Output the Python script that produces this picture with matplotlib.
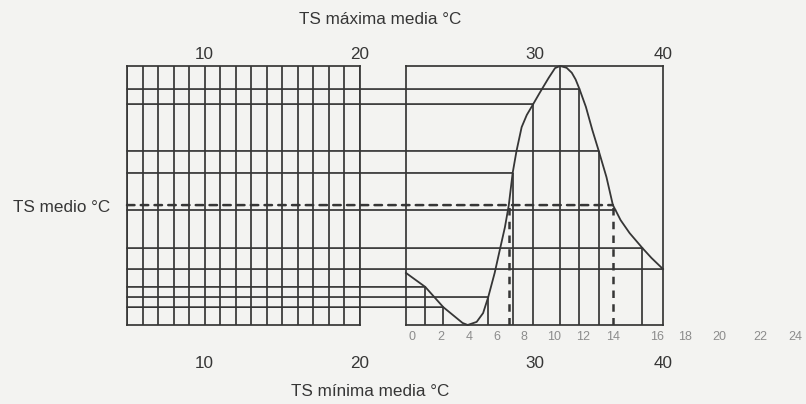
import numpy as np
import matplotlib.pyplot as plt
from matplotlib.patches import ConnectionPatch
from matplotlib.transforms import blended_transform_factory

plt.rcParams['font.family'] = ['Liberation Sans', 'DejaVu Sans']

# ---- data ----
# curve in the right panel: x = TS maxima media (degC), y = TS medio (relative, 0-100)
curve_tmax = [20.0, 21.5, 22.9, 24.4, 24.8, 25.5, 26.0, 26.4, 26.9, 27.3, 27.7, 28.0,
              28.3, 28.6, 29.0, 29.4, 29.9, 30.4, 31.1, 31.6, 32.0, 32.5, 32.9, 33.2,
              33.5, 34.0, 34.5, 35.0, 35.6, 36.1, 36.3, 36.7, 37.4, 38.4, 39.1, 40.0]
curve_medio = [20.1, 14.7, 6.9, 0.8, 0.0, 1.2, 4.6, 10.8, 20.1, 29.0, 37.8, 46.3,
               58.7, 67.2, 76.4, 81.1, 85.3, 89.6, 95.4, 99.2, 100.0, 99.3, 97.4, 94.8,
               91.1, 84.2, 75.3, 67.2, 57.1, 46.3, 44.4, 40.5, 35.5, 29.7, 25.9, 21.6]

# horizontal guide lines (from left edge to curve)
h_tmax = [33.5, 29.9, 35.0, 28.3, 36.3, 38.4, 40.0, 21.5, 26.4, 22.9]
h_medio = [91.1, 85.3, 67.2, 58.7, 44.4, 29.7, 21.6, 14.7, 10.8, 6.9]
# vertical guide lines (from curve down to bottom)
v_tmax = [21.5, 22.9, 26.4, 28.3, 29.9, 32.0, 33.5, 35.0, 38.4]
v_medio = [14.7, 6.9, 10.8, 58.7, 85.3, 100.0, 91.1, 67.2, 29.7]

# dashed reading example
read_medio = 46.3
read_tmax = [28.0, 36.1]

# left grid
grid_tmax = list(range(5, 21))

# scales
left_ticks = [10, 20]
right_ticks = [30, 40]
inner_labels = ['0', '2', '4', '6', '8', '10', '12', '14', '16', '18', '20', '22', '24']
inner_pos = [20.5, 22.7, 24.9, 27.1, 29.2, 31.5, 33.8, 36.1, 39.5, 41.7, 44.4, 47.6, 50.3]

# ---- plot ----
ink = '#363636'
lw = 1.25
W, H = 806, 404

fig = plt.figure(figsize=(W / 100, H / 100), dpi=100, facecolor='#f3f3f1')
ax_l = fig.add_axes([127 / W, 79 / H, 233 / W, 259 / H])
ax_r = fig.add_axes([406 / W, 79 / H, 257 / W, 259 / H], sharey=ax_l)

ax_l.set_xlim(5, 20)
ax_r.set_xlim(20, 40)
ax_l.set_ylim(0, 100)

for ax, ticks in [(ax_l, left_ticks), (ax_r, right_ticks)]:
    ax.set_facecolor('none')
    for s in ax.spines.values():
        s.set_color(ink)
        s.set_linewidth(lw)
    ax.set_xticks(ticks)
    ax.tick_params(axis='x', length=0, pad=22, labelsize=12.3, labelcolor=ink)
    ax.tick_params(axis='y', left=False, labelleft=False)
    sec = ax.secondary_xaxis('top')
    sec.set_xticks(ticks)
    sec.tick_params(length=0, pad=3, labelsize=12.3, labelcolor=ink)
    for s in sec.spines.values():
        s.set_visible(False)

# left grid verticals
ax_l.vlines(grid_tmax, 0, 100, color=ink, lw=lw)

# curve
ax_r.plot(curve_tmax, curve_medio, color=ink, lw=1.3, clip_on=False)

# verticals from curve down
ax_r.vlines(v_tmax, 0, v_medio, color=ink, lw=lw)

# horizontals from left edge to curve
for t, m in zip(h_tmax, h_medio):
    con = ConnectionPatch(xyA=(5, m), coordsA=ax_l.transData,
                          xyB=(t, m), coordsB=ax_r.transData,
                          color=ink, lw=lw)
    fig.add_artist(con)

# dashed reading lines
con = ConnectionPatch(xyA=(5, read_medio), coordsA=ax_l.transData,
                      xyB=(max(read_tmax), read_medio), coordsB=ax_r.transData,
                      color=ink, lw=1.8, linestyle=(0, (3, 2.5)))
fig.add_artist(con)
ax_r.vlines(read_tmax, 0, read_medio, color=ink, lw=1.8, linestyles=(0, (3, 2.5)))

# inner scale under right panel
trans = blended_transform_factory(ax_r.transData, ax_r.transAxes)
for lab, x in zip(inner_labels, inner_pos):
    ax_r.text(x, -0.046, lab, transform=trans, ha='center', va='center',
              fontsize=9, color='#8c8c8c', clip_on=False)

# labels
fig.text(380 / W, 1 - 20 / H, 'TS máxima media °C', ha='center', va='center',
         fontsize=12.3, color=ink)
fig.text(370 / W, 1 - 392 / H, 'TS mínima media °C', ha='center', va='center',
         fontsize=12.3, color=ink)
fig.text(110 / W, 1 - 207 / H, 'TS medio °C', ha='right', va='center',
         fontsize=12.3, color=ink)

fig.savefig('out.png', dpi=100, facecolor=fig.get_facecolor())
